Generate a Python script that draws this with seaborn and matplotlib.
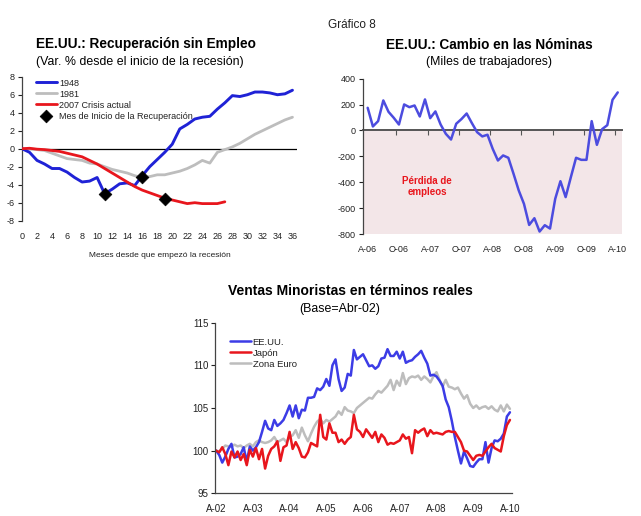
import numpy as np
import pandas as pd
import matplotlib
matplotlib.use("Agg")
import matplotlib.pyplot as plt
import seaborn as sns

# ---------------- data ----------------
# Chart 1: employment change since recession start (%)
months1 = list(range(37))
us1948 = [0, -0.4, -1.3, -1.7, -2.2, -2.2, -2.6, -3.2, -3.7, -3.6, -3.2, -5.0, -4.5,
          -3.9, -3.8, -4.1, -3.0, -2.0, -1.2, -0.4, 0.5, 2.2, 2.7, 3.3, 3.5, 3.6, 4.4,
          5.1, 5.9, 5.8, 6.0, 6.3, 6.3, 6.2, 6.0, 6.1, 6.5]
us1981 = [0, 0, -0.1, -0.2, -0.5, -0.8, -1.1, -1.2, -1.3, -1.6, -1.7, -2.0, -2.3,
          -2.5, -2.7, -3.0, -3.2, -3.1, -2.9, -2.9, -2.7, -2.5, -2.2, -1.8, -1.3,
          -1.6, -0.4, -0.1, 0.2, 0.6, 1.1, 1.6, 2.0, 2.4, 2.8, 3.2, 3.5]
us2007 = [0, 0.05, -0.05, -0.1, -0.2, -0.3, -0.5, -0.7, -0.9, -1.3, -1.7, -2.2, -2.7,
          -3.2, -3.7, -4.2, -4.6, -4.9, -5.2, -5.5, -5.7, -5.9, -6.1, -6.0, -6.1,
          -6.1, -6.1, -5.9]
recovery_month = [11, 16, 19]
recovery_value = [-5.0, -3.1, -5.6]
x1_ticks = list(range(0, 37, 2))
y1_ticks = list(range(-8, 9, 2))

# Chart 2: nonfarm payroll change (thousands), Apr-06 .. Apr-10
payrolls = [175, 31, 72, 232, 144, 98, 46, 201, 180, 193, 108, 240, 95, 147, 46,
            -26, -70, 52, 88, 131, 57, -13, -46, -33, -142, -232, -193, -211, -335,
            -464, -567, -730, -678, -781, -732, -758, -528, -392, -515, -361, -211,
            -227, -227, 72, -111, 10, 41, 237, 294]
x2_labels = ["A-06", "O-06", "A-07", "O-07", "A-08", "O-08", "A-09", "O-09", "A-10"]
y2_ticks = [400, 200, 0, -200, -400, -600, -800]

# Chart 3: real retail sales (Apr-02 = 100), Apr-02 .. Apr-10
us_sales = [100.0, 99.5, 98.6, 99.3, 100.2, 100.8, 99.2, 99.3, 99.6, 100.4, 98.7, 100.5,
            100.0, 100.4, 101.0, 102.2, 103.5, 102.6, 102.4, 103.6, 102.9, 103.2, 103.6, 104.4,
            105.3, 104.0, 105.3, 103.8, 104.8, 104.7, 106.2, 106.2, 106.3, 107.3, 107.1, 107.5,
            108.4, 107.6, 110.0, 110.7, 108.4, 107.0, 107.4, 109.0, 108.8, 111.8, 110.7, 111.0,
            111.3, 110.6, 109.9, 110.0, 109.6, 109.9, 110.8, 110.9, 111.9, 111.1, 111.1, 111.6,
            110.8, 111.6, 110.3, 110.5, 110.6, 111.0, 111.3, 111.7, 110.9, 110.2, 108.8, 108.9,
            108.7, 108.2, 107.6, 106.0, 105.1, 103.5, 101.6, 100.0, 98.5, 99.9, 99.1, 98.2,
            98.1, 98.6, 99.0, 99.0, 101.0, 98.6, 100.3, 101.2, 101.1, 101.4, 102.0, 104.0, 104.5]
japan_sales = [100.0, 99.8, 100.4, 99.6, 98.3, 99.9, 99.2, 99.9, 98.9, 99.6, 98.3, 100.1,
               99.3, 100.3, 99.0, 100.2, 97.9, 99.4, 100.2, 100.5, 101.1, 98.8, 100.4, 100.6,
               102.2, 100.2, 101.0, 100.3, 99.3, 99.2, 99.8, 100.9, 100.7, 100.5, 104.2, 101.6,
               101.3, 103.2, 102.1, 102.1, 101.0, 101.3, 100.8, 101.3, 101.6, 104.2, 102.5, 102.2,
               101.6, 102.5, 102.0, 101.5, 102.2, 101.0, 101.9, 101.5, 100.7, 100.9, 100.8, 101.0,
               101.2, 101.9, 101.4, 101.6, 99.7, 102.4, 102.1, 102.4, 102.6, 101.7, 102.4, 102.0,
               102.1, 102.0, 101.9, 102.2, 102.3, 102.2, 102.2, 101.6, 101.0, 100.0, 99.9, 99.4,
               98.9, 99.4, 99.5, 99.4, 99.9, 100.4, 100.8, 100.3, 100.1, 99.9, 101.7, 103.0, 103.6]
euro_sales = [100.0, 99.9, 100.2, 100.6, 100.5, 100.5, 100.7, 100.5, 100.6, 100.3, 100.6, 100.8,
              100.5, 101.0, 101.2, 101.0, 100.9, 101.0, 101.2, 101.6, 101.0, 101.2, 101.4, 101.0,
              101.6, 101.8, 102.4, 101.5, 102.7, 101.8, 101.1, 102.0, 102.8, 103.4, 103.7, 103.2,
              103.6, 103.4, 103.7, 104.0, 104.6, 104.2, 105.1, 104.7, 104.6, 104.4, 105.0, 105.3,
              105.6, 105.9, 106.2, 106.1, 106.6, 107.0, 106.8, 107.2, 107.6, 108.3, 107.1, 108.2,
              107.6, 109.1, 107.8, 108.5, 108.7, 108.6, 108.8, 108.3, 108.7, 108.4, 108.0, 108.7,
              109.2, 108.3, 107.5, 108.3, 107.5, 107.4, 107.2, 107.4, 106.7, 106.1, 106.5, 105.5,
              105.0, 105.3, 104.9, 105.1, 105.2, 104.9, 105.2, 104.8, 104.6, 105.3, 104.6, 105.4, 104.9]
x3_labels = ["A-02", "A-03", "A-04", "A-05", "A-06", "A-07", "A-08", "A-09", "A-10"]
y3_ticks = [95, 100, 105, 110, 115]

# ---------------- style ----------------
sns.set_theme(style="white")
plt.rcParams["font.family"] = ["Liberation Sans Narrow", "Liberation Sans", "DejaVu Sans"]
plt.rcParams["axes.unicode_minus"] = False

TXT = "#222222"
BLUE1 = "#1f22d6"
BLUE2 = "#3c3ce6"
RED = "#e8161d"
GRAY = "#bdbdbd"
LINEBLUE = "#4c4cdf"

fig = plt.figure(figsize=(6.41, 5.16), dpi=100)

fig.text(0.549, 0.952, "Gráfico 8", ha="center", va="center", fontsize=8.5, color=TXT,
         family=["Liberation Sans", "DejaVu Sans"])

# ---------------- chart 1 ----------------
ax1 = fig.add_axes([0.0343, 0.5723, 0.429, 0.279])
df1 = pd.DataFrame({"m": months1, "v": us1948})
df2 = pd.DataFrame({"m": months1, "v": us1981})
df3 = pd.DataFrame({"m": months1[:len(us2007)], "v": us2007})
ax1.axhline(0, color="black", lw=0.9, zorder=1)
sns.lineplot(data=df1, x="m", y="v", ax=ax1, color=BLUE1, lw=2.1, label="1948", zorder=3)
sns.lineplot(data=df2, x="m", y="v", ax=ax1, color=GRAY, lw=2.0, label="1981", zorder=2)
sns.lineplot(data=df3, x="m", y="v", ax=ax1, color=RED, lw=2.0, label="2007 Crisis actual", zorder=3)
sns.scatterplot(x=recovery_month, y=recovery_value, ax=ax1, marker="D", s=42, color="black",
                edgecolor="black", zorder=5, label="Mes de Inicio de la Recuperación")
ax1.set_xlim(0, 36.6)
ax1.set_ylim(-8, 8)
ax1.set_xticks(x1_ticks)
ax1.set_yticks(y1_ticks)
ax1.tick_params(axis="x", length=0, labelsize=6.5, pad=8, colors=TXT)
ax1.tick_params(axis="y", length=3, width=0.8, direction="out", labelsize=6.5, colors=TXT, left=True, pad=2)
for s in ["top", "right", "bottom"]:
    ax1.spines[s].set_visible(False)
ax1.spines["left"].set_color("#444444")
ax1.spines["left"].set_linewidth(0.9)
ax1.set_xlabel("Meses desde que empezó la recesión", fontsize=6, color=TXT, labelpad=8)
ax1.set_ylabel("")
leg = ax1.legend(loc="upper left", bbox_to_anchor=(0.03, 1.025), frameon=False, fontsize=6.5,
                 handlelength=2.4, handletextpad=0.2, labelspacing=0.22, borderaxespad=0.2)
for t in leg.get_texts():
    t.set_color(TXT)
fig.text(0.056, 0.915, "EE.UU.: Recuperación sin Empleo", ha="left", va="center",
         fontsize=9.8, fontweight="bold", color="black")
fig.text(0.056, 0.880, "(Var. % desde el inicio de la recesión)", ha="left", va="center",
         fontsize=8.9, color="black")

# ---------------- chart 2 ----------------
ax2 = fig.add_axes([0.5658, 0.5465, 0.404, 0.301])
months2 = list(range(len(payrolls)))
dfp = pd.DataFrame({"m": months2, "v": payrolls})
ax2.axhspan(-800, 0, color="#f3e6e8", zorder=0, lw=0)
sns.lineplot(data=dfp, x="m", y="v", ax=ax2, color=LINEBLUE, lw=1.8, zorder=3)
ax2.set_xlim(-0.96, 48.75)
ax2.set_ylim(-800, 400)
ax2.set_yticks(y2_ticks)
ax2.tick_params(axis="y", length=3, width=0.8, direction="out", labelsize=6.5, colors=TXT, left=True, pad=2)
# bottom spine placed on zero with category-separator ticks
ax2.spines["bottom"].set_position(("data", 0))
ax2.spines["bottom"].set_color("#555555")
ax2.spines["bottom"].set_linewidth(1.4)
ax2.spines["bottom"].set_zorder(2)
ax2.set_xticks(np.arange(5.5, 48, 6))
ax2.tick_params(axis="x", length=3.5, width=0.8, direction="out", colors="#555555", bottom=True,
                labelbottom=False)
sec = ax2.secondary_xaxis(0.0)
sec.set_xticks(list(range(0, 49, 6)), x2_labels)
sec.tick_params(length=0, labelsize=6.5, colors=TXT, pad=8)
for s in sec.spines.values():
    s.set_visible(False)
for s in ["top", "right"]:
    ax2.spines[s].set_visible(False)
ax2.spines["left"].set_color("#444444")
ax2.spines["left"].set_linewidth(0.9)
ax2.set_xlabel("")
ax2.set_ylabel("")
ax2.text(11.4, -430, "Pérdida de\nempleos", ha="center", va="center", fontsize=7,
         fontweight="bold", color="#e8161d", linespacing=1.1)
fig.text(0.763, 0.913, "EE.UU.: Cambio en las Nóminas", ha="center", va="center",
         fontsize=9.8, fontweight="bold", color="black")
fig.text(0.763, 0.880, "(Miles de trabajadores)", ha="center", va="center",
         fontsize=8.8, color="black")

# ---------------- chart 3 ----------------
ax3 = fig.add_axes([0.336, 0.044, 0.4624, 0.3306])
months3 = list(range(len(us_sales)))
dfs = pd.DataFrame({"m": months3 * 3,
                    "v": us_sales + japan_sales + euro_sales,
                    "s": ["EE.UU."] * len(us_sales) + ["Japón"] * len(japan_sales)
                         + ["Zona Euro"] * len(euro_sales)})
sns.lineplot(data=dfs, x="m", y="v", hue="s", ax=ax3,
             palette={"EE.UU.": BLUE2, "Japón": RED, "Zona Euro": GRAY}, lw=1.8)
for line in ax3.get_lines():
    if line.get_color() == GRAY:
        line.set_zorder(1)
ax3.set_xlim(-0.25, 96.6)
ax3.set_ylim(95, 115)
ax3.set_yticks(y3_ticks)
ax3.set_xticks(list(range(0, 97, 12)), x3_labels)
ax3.tick_params(axis="x", length=0, labelsize=7, colors=TXT, pad=8)
ax3.tick_params(axis="y", length=3, width=0.8, direction="out", labelsize=7, colors=TXT, left=True, pad=2)
for s in ["top", "right"]:
    ax3.spines[s].set_visible(False)
for s in ["left", "bottom"]:
    ax3.spines[s].set_color("#444444")
    ax3.spines[s].set_linewidth(0.9)
ax3.set_xlabel("")
ax3.set_ylabel("")
leg3 = ax3.legend(loc="upper left", bbox_to_anchor=(0.03, 0.945), frameon=False, fontsize=6.8,
                  handlelength=2.2, handletextpad=0.2, labelspacing=0.2, borderaxespad=0.2)
for t in leg3.get_texts():
    t.set_color(TXT)
fig.text(0.547, 0.436, "Ventas Minoristas en términos reales", ha="center", va="center",
         fontsize=10, fontweight="bold", color="black")
fig.text(0.530, 0.401, "(Base=Abr-02)", ha="center", va="center", fontsize=8.9, color="black")

fig.savefig("out.png", dpi=100)
